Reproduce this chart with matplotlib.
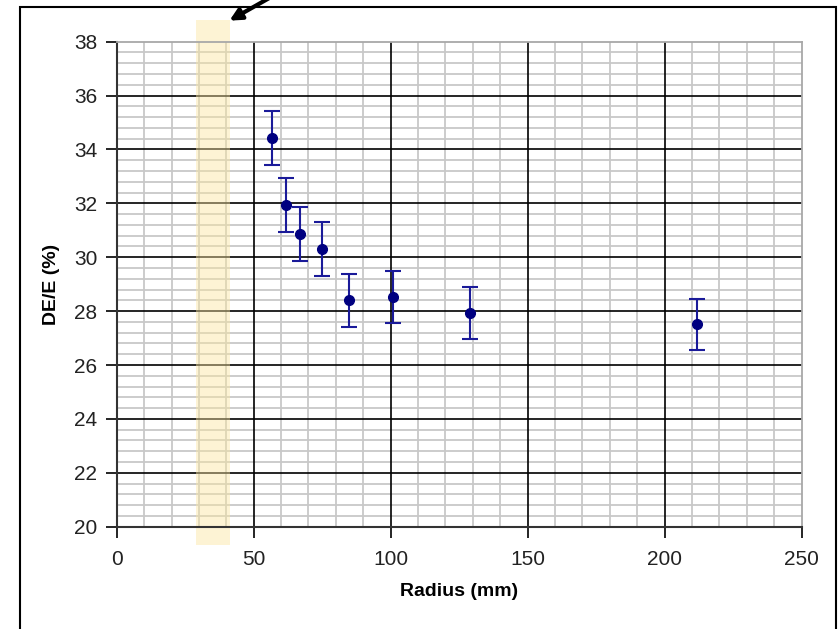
import matplotlib.pyplot as plt
from matplotlib.patches import Rectangle
from matplotlib.ticker import MultipleLocator
import matplotlib.transforms as mtransforms

# data
radius = [56.8, 61.8, 67.0, 74.8, 84.9, 100.7, 128.9, 211.7]
deltaE = [34.44, 31.93, 30.85, 30.32, 28.40, 28.52, 27.93, 27.51]
errors = [1.0, 1.0, 1.0, 1.0, 0.97, 0.97, 0.97, 0.95]
xTicks = [0, 50, 100, 150, 200, 250]
yTicks = [20, 22, 24, 26, 28, 30, 32, 34, 36, 38]
band = (29, 41.5)  # highlighted radius range

plt.rcParams['font.family'] = ['Liberation Sans', 'DejaVu Sans']

fig = plt.figure(figsize=(8.39, 6.29), dpi=100)
ax = fig.add_axes([0.1391, 0.1626, 0.8164, 0.7711])

# outer frame around the chart (open at the bottom)
fig.add_artist(Rectangle((20 / 839, -0.05), 816 / 839, 1.05 - 7 / 629,
                         transform=fig.transFigure, fill=False,
                         edgecolor='black', lw=1.5, clip_on=False))

ax.set_xlim(0, 250)
ax.set_ylim(20, 38)
ax.set_xticks(xTicks)
ax.set_yticks(yTicks)
ax.xaxis.set_minor_locator(MultipleLocator(10))
ax.yaxis.set_minor_locator(MultipleLocator(0.4))

# minor grid in gray, major grid in black drawn on top of it
ax.grid(which='minor', color='#c8c8c8', lw=1.3)
ax.set_axisbelow(True)
ax.vlines(xTicks[1:-1], 20, 38, colors='black', lw=1.2, zorder=1)
ax.hlines(yTicks[1:-1], 0, 250, colors='black', lw=1.2, zorder=1)

ax.tick_params(which='major', direction='out', length=8, width=1.2,
               labelsize=15, colors='black')
ax.tick_params(axis='x', pad=9)
ax.tick_params(axis='y', pad=6)
ax.tick_params(which='minor', length=0)
for lbl in ax.get_xticklabels() + ax.get_yticklabels():
    lbl.set_color('#222222')

for side in ['left', 'bottom']:
    ax.spines[side].set_color('#333333')
    ax.spines[side].set_linewidth(1.5)
for side in ['top', 'right']:
    ax.spines[side].set_color('#a8a8a8')
    ax.spines[side].set_linewidth(1.3)

# yellow highlighted band, a bit taller than the plot area
trans = mtransforms.blended_transform_factory(ax.transData, ax.transAxes)
ax.add_patch(Rectangle((band[0], -0.038), band[1] - band[0], 1.083,
                       transform=trans, facecolor='#fbe6a0', alpha=0.45,
                       edgecolor='none', clip_on=False, zorder=2))

ax.errorbar(radius, deltaE, yerr=errors, fmt='o', color='#000080',
            ecolor='#1a1a99', ms=7, elinewidth=1.5, capsize=6,
            capthick=1.5, zorder=5)

ax.set_xlabel('Radius (mm)', fontsize=14, fontweight='bold', labelpad=10)
ax.set_ylabel('DE/E (%)', fontsize=14, fontweight='bold', labelpad=10)

# arrow pointing at the band
ax.annotate('', xy=(227 / 839, 1 - 22 / 629), xycoords='figure fraction',
            xytext=(0.33, 1.01), textcoords='figure fraction',
            arrowprops=dict(arrowstyle='-|>,head_width=0.35,head_length=0.7',
                            lw=3, color='black'), annotation_clip=False)

plt.savefig('out.png', dpi=100)
